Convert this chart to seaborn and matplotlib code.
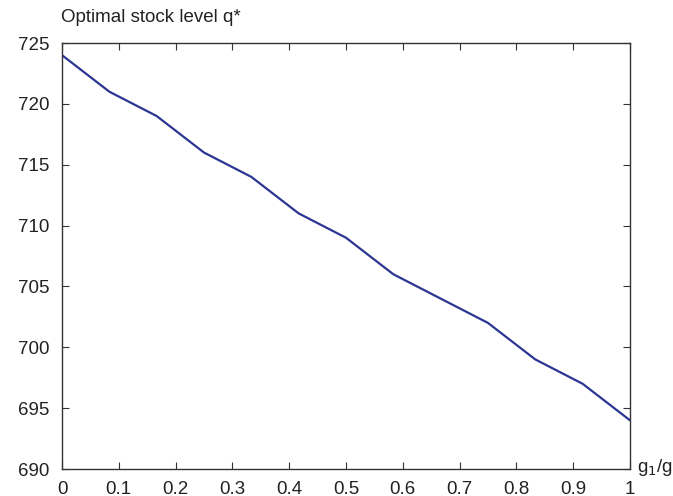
import matplotlib
matplotlib.use("Agg")
import matplotlib.pyplot as plt
import seaborn as sns
import pandas as pd

ratio = [0, 1/12, 2/12, 3/12, 4/12, 5/12, 6/12, 7/12, 8/12, 9/12, 10/12, 11/12, 1]
stock = [724, 721, 719, 716, 714, 711, 709, 706, 704, 702, 699, 697, 694]
xticks = [0, 0.1, 0.2, 0.3, 0.4, 0.5, 0.6, 0.7, 0.8, 0.9, 1]
xticklabels = ["0", "0.1", "0.2", "0.3", "0.4", "0.5", "0.6", "0.7", "0.8", "0.9", "1"]
yticks = [690, 695, 700, 705, 710, 715, 720, 725]

sns.set_theme(style="white")
plt.rcParams['font.family'] = ['Liberation Sans', 'DejaVu Sans']

df = pd.DataFrame({"ratio": ratio, "stock": stock})
fig = plt.figure(figsize=(6.73, 4.96), dpi=100)
ax = fig.add_axes([62/673, 1-469/496, (630-62)/673, (469-43)/496])
sns.lineplot(data=df, x="ratio", y="stock", ax=ax, color="#2b3593", linewidth=1.6)
ax.set_xlim(0, 1)
ax.set_ylim(690, 725)
ax.set_xticks(xticks)
ax.set_xticklabels(xticklabels)
ax.set_yticks(yticks)
ax.tick_params(direction="in", length=5, width=0.8, colors="#333333", labelcolor="#222222",
               labelsize=13.5, top=True, right=True, bottom=True, left=True)
ax.tick_params(axis="x", pad=9)
ax.tick_params(axis="y", pad=9)
for s in ax.spines.values():
    s.set_color("#333333")
    s.set_linewidth(1.0)
ax.set_xlabel("")
ax.set_ylabel("")
fig.text(61/673, 1-18/496, "Optimal stock level q*", fontsize=13.5, color="#222222", ha="left", va="center")
fig.text(637/673, 1-467/496, "g$_1$/g", fontsize=13.5, color="#222222", ha="left", va="center")
fig.savefig("out.png", dpi=100)
